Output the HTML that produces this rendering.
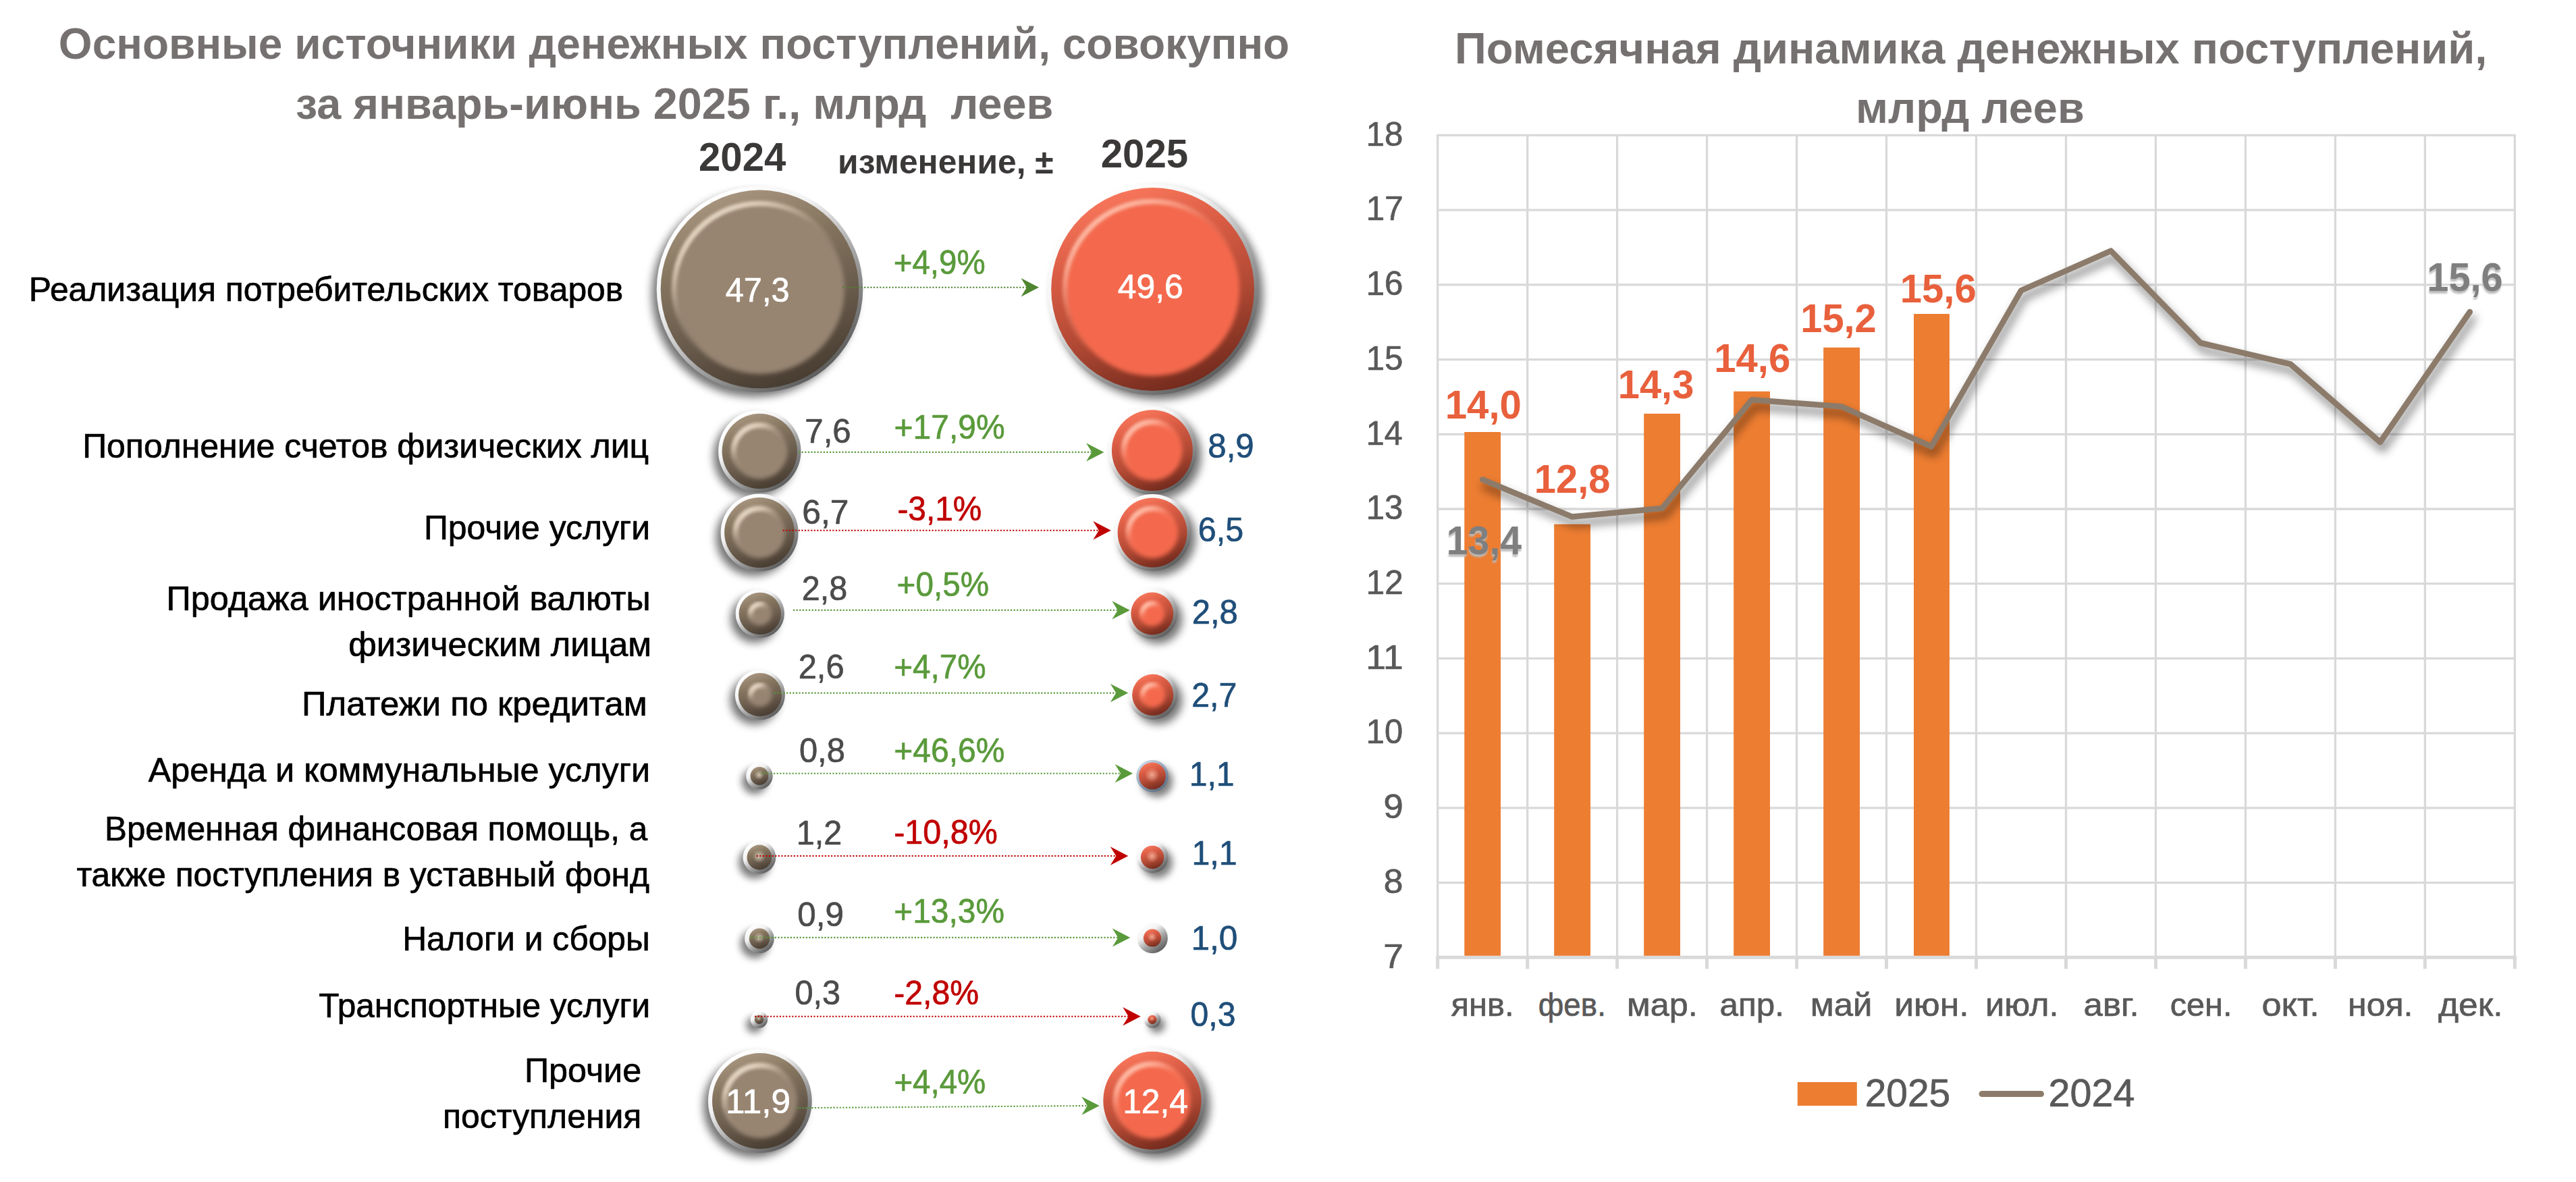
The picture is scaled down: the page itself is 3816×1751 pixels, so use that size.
<!DOCTYPE html>
<html lang="ru">
<head>
<meta charset="utf-8">
<title>Основные источники денежных поступлений</title>
<style>
html,body{margin:0;padding:0;background:#fff}
body{width:3816px;height:1751px;overflow:hidden}
svg{display:block}
svg text{font-family:"Liberation Sans", sans-serif;white-space:pre}
</style>
</head>
<body>
<svg width="3816" height="1751" viewBox="0 0 3816 1751">
<defs>
<filter id="bsh" x="-40%" y="-40%" width="180%" height="180%"><feGaussianBlur stdDeviation="6.5"/></filter>
<filter id="bshs" x="-100%" y="-100%" width="300%" height="300%"><feGaussianBlur stdDeviation="5.5"/></filter>
<filter id="soft" x="-20%" y="-20%" width="140%" height="140%"><feGaussianBlur stdDeviation="3"/></filter>
<filter id="soft2" x="-20%" y="-20%" width="140%" height="140%"><feGaussianBlur stdDeviation="2.2"/></filter>
<filter id="lsh" x="-5%" y="-10%" width="110%" height="130%"><feGaussianBlur stdDeviation="7"/></filter>
<filter id="tsh" x="-10%" y="-20%" width="120%" height="150%"><feDropShadow dx="-0.5" dy="3.8" stdDeviation="1.3" flood-color="#b9b9b9" flood-opacity=".95"/></filter>
<linearGradient id="rim" x1="0.2" y1="0.1" x2="0.8" y2="0.9"><stop offset="0" stop-color="#ffffff"/><stop offset=".3" stop-color="#f2f2f2"/><stop offset=".62" stop-color="#a6a6a6"/><stop offset="1" stop-color="#5e5e5e"/></linearGradient>
<linearGradient id="rimb" x1="0.2" y1="0.1" x2="0.8" y2="0.9"><stop offset="0" stop-color="#c9d6e4"/><stop offset=".5" stop-color="#8fa3ba"/><stop offset="1" stop-color="#5d6f84"/></linearGradient>
<linearGradient id="bevB" x1="0.35" y1="0" x2="0.7" y2="1"><stop offset="0" stop-color="#a8957f"/><stop offset=".3" stop-color="#85755f"/><stop offset=".62" stop-color="#6a5c4d"/><stop offset="1" stop-color="#453a2f"/></linearGradient>
<linearGradient id="bevR" x1="0.35" y1="0" x2="0.7" y2="1"><stop offset="0" stop-color="#f9775c"/><stop offset=".3" stop-color="#d85b43"/><stop offset=".62" stop-color="#b04934"/><stop offset="1" stop-color="#6e281b"/></linearGradient>
<linearGradient id="hgB" x1="0.12" y1="0.02" x2="0.62" y2="0.72"><stop offset="0" stop-color="#efe2d0" stop-opacity="1"/><stop offset=".25" stop-color="#e6d6c2" stop-opacity=".8"/><stop offset=".55" stop-color="#d8c8b4" stop-opacity=".18"/><stop offset=".8" stop-color="#d8c8b4" stop-opacity="0"/></linearGradient>
<linearGradient id="hgR" x1="0.12" y1="0.02" x2="0.62" y2="0.72"><stop offset="0" stop-color="#ffc9b6" stop-opacity="1"/><stop offset=".25" stop-color="#ffb7a1" stop-opacity=".8"/><stop offset=".55" stop-color="#ff9f86" stop-opacity=".18"/><stop offset=".8" stop-color="#ff9f86" stop-opacity="0"/></linearGradient>
<radialGradient id="hlB" cx=".5" cy=".5" r=".5"><stop offset="0" stop-color="#e8dac8" stop-opacity=".95"/><stop offset="1" stop-color="#e8dac8" stop-opacity="0"/></radialGradient>
<radialGradient id="hlR" cx=".5" cy=".5" r=".5"><stop offset="0" stop-color="#ffc0ab" stop-opacity=".95"/><stop offset="1" stop-color="#ffc0ab" stop-opacity="0"/></radialGradient>
</defs>
<g id="chart">
<g stroke="#d9d9d9" stroke-width="3.3" fill="none">
<line x1="2128.1" y1="1307.6" x2="3726.9" y2="1307.6"/>
<line x1="2128.1" y1="1196.9" x2="3726.9" y2="1196.9"/>
<line x1="2128.1" y1="1086.1" x2="3726.9" y2="1086.1"/>
<line x1="2128.1" y1="975.4" x2="3726.9" y2="975.4"/>
<line x1="2128.1" y1="864.7" x2="3726.9" y2="864.7"/>
<line x1="2128.1" y1="754.0" x2="3726.9" y2="754.0"/>
<line x1="2128.1" y1="643.3" x2="3726.9" y2="643.3"/>
<line x1="2128.1" y1="532.6" x2="3726.9" y2="532.6"/>
<line x1="2128.1" y1="421.8" x2="3726.9" y2="421.8"/>
<line x1="2128.1" y1="311.1" x2="3726.9" y2="311.1"/>
<line x1="2128.1" y1="200.4" x2="3726.9" y2="200.4"/>
<line x1="2129.7" y1="200.4" x2="2129.7" y2="1418.3"/>
<line x1="2262.7" y1="200.4" x2="2262.7" y2="1418.3"/>
<line x1="2395.6" y1="200.4" x2="2395.6" y2="1418.3"/>
<line x1="2528.6" y1="200.4" x2="2528.6" y2="1418.3"/>
<line x1="2661.6" y1="200.4" x2="2661.6" y2="1418.3"/>
<line x1="2794.5" y1="200.4" x2="2794.5" y2="1418.3"/>
<line x1="2927.5" y1="200.4" x2="2927.5" y2="1418.3"/>
<line x1="3060.5" y1="200.4" x2="3060.5" y2="1418.3"/>
<line x1="3193.4" y1="200.4" x2="3193.4" y2="1418.3"/>
<line x1="3326.4" y1="200.4" x2="3326.4" y2="1418.3"/>
<line x1="3459.4" y1="200.4" x2="3459.4" y2="1418.3"/>
<line x1="3592.3" y1="200.4" x2="3592.3" y2="1418.3"/>
<line x1="3725.3" y1="200.4" x2="3725.3" y2="1418.3"/>
</g>
<g stroke="#d9d9d9" stroke-width="5" fill="none">
<line x1="2127.2" y1="1418.3" x2="3727.8" y2="1418.3"/>
<line x1="2129.7" y1="1418.3" x2="2129.7" y2="1435.3"/>
<line x1="2262.7" y1="1418.3" x2="2262.7" y2="1435.3"/>
<line x1="2395.6" y1="1418.3" x2="2395.6" y2="1435.3"/>
<line x1="2528.6" y1="1418.3" x2="2528.6" y2="1435.3"/>
<line x1="2661.6" y1="1418.3" x2="2661.6" y2="1435.3"/>
<line x1="2794.5" y1="1418.3" x2="2794.5" y2="1435.3"/>
<line x1="2927.5" y1="1418.3" x2="2927.5" y2="1435.3"/>
<line x1="3060.5" y1="1418.3" x2="3060.5" y2="1435.3"/>
<line x1="3193.4" y1="1418.3" x2="3193.4" y2="1435.3"/>
<line x1="3326.4" y1="1418.3" x2="3326.4" y2="1435.3"/>
<line x1="3459.4" y1="1418.3" x2="3459.4" y2="1435.3"/>
<line x1="3592.3" y1="1418.3" x2="3592.3" y2="1435.3"/>
<line x1="3725.3" y1="1418.3" x2="3725.3" y2="1435.3"/>
</g>
<g fill="#ed7d31">
<rect x="2169.3" y="640.0" width="53.8" height="775.8"/>
<rect x="2302.2" y="776.6" width="53.8" height="639.2"/>
<rect x="2435.2" y="612.8" width="53.8" height="803.0"/>
<rect x="2568.2" y="579.8" width="53.8" height="836.0"/>
<rect x="2701.2" y="514.8" width="53.8" height="901.0"/>
<rect x="2835.0" y="465.0" width="52.9" height="950.8"/>
</g>
<polyline points="2200.2,720.5 2333.1,775.6 2466.1,763.1 2599.1,602.3 2732.1,612.3 2865.0,671.5 2998.0,440.4 3131.0,381.6 3263.9,518.0 3396.9,549.3 3529.9,665.0 3662.8,472.0" fill="none" stroke="#000" stroke-opacity=".46" stroke-width="10" stroke-linejoin="round" stroke-linecap="round" filter="url(#lsh)"/>
<polyline points="2196.2,710.5 2329.1,765.6 2462.1,753.1 2595.1,592.3 2728.1,602.3 2861.0,661.5 2994.0,430.4 3127.0,371.6 3259.9,508.0 3392.9,539.3 3525.9,655.0 3658.8,462.0" fill="none" stroke="#8c7b6a" stroke-width="8.5" stroke-linejoin="round" stroke-linecap="round"/>
<rect x="2662.8" y="1603" width="88" height="35" fill="#ed7d31"/>
<line x1="2936" y1="1620.6" x2="3023.5" y2="1620.6" stroke="#8c7b6a" stroke-width="9" stroke-linecap="round"/>
</g>
<g id="bubbles">
<circle cx="1117.5" cy="436.4" r="151.8" fill="#000" opacity=".55" filter="url(#bsh)"/>
<circle cx="1125.5" cy="428.4" r="152.8" fill="url(#rim)"/>
<circle cx="1125.5" cy="428.4" r="146.8" fill="url(#bevB)"/>
<circle cx="1125.5" cy="428.4" r="125.5" fill="#978572" filter="url(#soft)"/>
<circle cx="1125.5" cy="428.4" r="127.0" fill="none" stroke="url(#hgB)" stroke-width="8.0" filter="url(#soft2)"/>
<circle cx="1715.6" cy="436.5" r="155.4" fill="#000" opacity=".55" filter="url(#bsh)"/>
<circle cx="1707.6" cy="428.5" r="156.4" fill="url(#rim)"/>
<circle cx="1707.6" cy="428.5" r="150.4" fill="url(#bevR)"/>
<circle cx="1707.6" cy="428.5" r="128.5" fill="#f4694e" filter="url(#soft)"/>
<circle cx="1707.6" cy="428.5" r="130.0" fill="none" stroke="url(#hgR)" stroke-width="8.0" filter="url(#soft2)"/>
<circle cx="1117.3" cy="676.4" r="60.2" fill="#000" opacity=".55" filter="url(#bsh)"/>
<circle cx="1125.3" cy="668.4" r="61.2" fill="url(#rim)"/>
<circle cx="1125.3" cy="668.4" r="55.7" fill="url(#bevB)"/>
<circle cx="1125.3" cy="668.4" r="41.0" fill="#978572" filter="url(#soft)"/>
<circle cx="1125.3" cy="668.4" r="38.5" fill="none" stroke="url(#hgB)" stroke-width="8.5" filter="url(#soft2)"/>
<circle cx="1714.9" cy="675.3" r="64.5" fill="#000" opacity=".55" filter="url(#bsh)"/>
<circle cx="1706.9" cy="667.3" r="65.5" fill="url(#rim)"/>
<circle cx="1706.9" cy="667.3" r="60.0" fill="url(#bevR)"/>
<circle cx="1706.9" cy="667.3" r="44.5" fill="#f4694e" filter="url(#soft)"/>
<circle cx="1706.9" cy="667.3" r="42.0" fill="none" stroke="url(#hgR)" stroke-width="8.5" filter="url(#soft2)"/>
<circle cx="1117.1" cy="796.9" r="56.5" fill="#000" opacity=".55" filter="url(#bsh)"/>
<circle cx="1125.1" cy="788.9" r="57.5" fill="url(#rim)"/>
<circle cx="1125.1" cy="788.9" r="52.0" fill="url(#bevB)"/>
<circle cx="1125.1" cy="788.9" r="38.0" fill="#978572" filter="url(#soft)"/>
<circle cx="1125.1" cy="788.9" r="35.5" fill="none" stroke="url(#hgB)" stroke-width="8.5" filter="url(#soft2)"/>
<circle cx="1715.1" cy="796.9" r="56.0" fill="#000" opacity=".55" filter="url(#bsh)"/>
<circle cx="1707.1" cy="788.9" r="57.0" fill="url(#rim)"/>
<circle cx="1707.1" cy="788.9" r="51.5" fill="url(#bevR)"/>
<circle cx="1707.1" cy="788.9" r="38.0" fill="#f4694e" filter="url(#soft)"/>
<circle cx="1707.1" cy="788.9" r="35.5" fill="none" stroke="url(#hgR)" stroke-width="8.5" filter="url(#soft2)"/>
<circle cx="1117.8" cy="916.9" r="35.2" fill="#000" opacity=".55" filter="url(#bsh)"/>
<circle cx="1125.8" cy="908.9" r="36.2" fill="url(#rim)"/>
<circle cx="1125.8" cy="908.9" r="31.2" fill="url(#bevB)"/>
<circle cx="1125.3" cy="908.4" r="18.0" fill="#978572" filter="url(#soft)"/>
<circle cx="1125.8" cy="908.9" r="13.5" fill="none" stroke="url(#hgB)" stroke-width="8" filter="url(#soft2)"/>
<circle cx="1714.8" cy="917.0" r="36.5" fill="#000" opacity=".55" filter="url(#bsh)"/>
<circle cx="1706.8" cy="909.0" r="37.5" fill="url(#rim)"/>
<circle cx="1706.8" cy="909.0" r="31.5" fill="url(#bevR)"/>
<circle cx="1706.3" cy="908.5" r="19.0" fill="#f4694e" filter="url(#soft)"/>
<circle cx="1706.8" cy="909.0" r="14.5" fill="none" stroke="url(#hgR)" stroke-width="8" filter="url(#soft2)"/>
<circle cx="1117.9" cy="1037.2" r="36.1" fill="#000" opacity=".55" filter="url(#bsh)"/>
<circle cx="1125.9" cy="1029.2" r="37.1" fill="url(#rim)"/>
<circle cx="1125.9" cy="1029.2" r="32.1" fill="url(#bevB)"/>
<circle cx="1125.4" cy="1028.7" r="18.0" fill="#978572" filter="url(#soft)"/>
<circle cx="1125.9" cy="1029.2" r="13.5" fill="none" stroke="url(#hgB)" stroke-width="8" filter="url(#soft2)"/>
<circle cx="1715.7" cy="1037.4" r="35.6" fill="#000" opacity=".55" filter="url(#bsh)"/>
<circle cx="1707.7" cy="1029.4" r="36.6" fill="url(#rim)"/>
<circle cx="1707.7" cy="1029.4" r="30.6" fill="url(#bevR)"/>
<circle cx="1707.2" cy="1028.9" r="19.0" fill="#f4694e" filter="url(#soft)"/>
<circle cx="1707.7" cy="1029.4" r="14.5" fill="none" stroke="url(#hgR)" stroke-width="8" filter="url(#soft2)"/>
<circle cx="1118.0" cy="1157.5" r="19.2" fill="#000" opacity=".5" filter="url(#bshs)"/>
<circle cx="1125.0" cy="1149.5" r="19.7" fill="url(#rim)"/>
<circle cx="1125.0" cy="1149.5" r="13.4" fill="url(#bevB)"/>
<circle cx="1124.5" cy="1148.0" r="7.4" fill="url(#hlB)" opacity=".8"/>
<circle cx="1714.0" cy="1157.5" r="23.3" fill="#000" opacity=".5" filter="url(#bshs)"/>
<circle cx="1707.0" cy="1149.5" r="23.8" fill="url(#rimb)"/>
<circle cx="1707.0" cy="1149.5" r="20.0" fill="url(#bevR)"/>
<circle cx="1706.5" cy="1148.0" r="11.0" fill="url(#hlR)" opacity=".8"/>
<circle cx="1117.9" cy="1278.0" r="23.9" fill="#000" opacity=".5" filter="url(#bshs)"/>
<circle cx="1124.9" cy="1270.0" r="24.4" fill="url(#rim)"/>
<circle cx="1124.9" cy="1270.0" r="18.4" fill="url(#bevB)"/>
<circle cx="1124.4" cy="1268.5" r="10.1" fill="url(#hlB)" opacity=".8"/>
<circle cx="1714.1" cy="1277.9" r="23.0" fill="#000" opacity=".5" filter="url(#bshs)"/>
<circle cx="1707.1" cy="1269.9" r="23.5" fill="url(#rim)"/>
<circle cx="1707.1" cy="1269.9" r="17.2" fill="url(#bevR)"/>
<circle cx="1706.6" cy="1268.4" r="9.5" fill="url(#hlR)" opacity=".8"/>
<circle cx="1118.0" cy="1398.4" r="21.3" fill="#000" opacity=".5" filter="url(#bshs)"/>
<circle cx="1125.0" cy="1390.4" r="21.8" fill="url(#rim)"/>
<circle cx="1125.0" cy="1390.4" r="15.1" fill="url(#bevB)"/>
<circle cx="1124.5" cy="1388.9" r="8.3" fill="url(#hlB)" opacity=".8"/>
<circle cx="1707.0" cy="1389.4" r="22.9" fill="url(#rim)"/>
<circle cx="1707.0" cy="1389.4" r="13.1" fill="url(#bevR)"/>
<circle cx="1706.5" cy="1387.9" r="7.2" fill="url(#hlR)" opacity=".8"/>
<circle cx="1117.5" cy="1518.2" r="12.2" fill="#000" opacity=".5" filter="url(#bshs)"/>
<circle cx="1124.5" cy="1510.2" r="12.7" fill="url(#rim)"/>
<circle cx="1124.5" cy="1510.2" r="6.7" fill="url(#bevB)"/>
<circle cx="1124.0" cy="1508.7" r="3.7" fill="url(#hlB)" opacity=".8"/>
<circle cx="1713.9" cy="1518.3" r="12.0" fill="#000" opacity=".5" filter="url(#bshs)"/>
<circle cx="1706.9" cy="1510.3" r="12.5" fill="url(#rim)"/>
<circle cx="1706.9" cy="1510.3" r="6.6" fill="url(#bevR)"/>
<circle cx="1706.4" cy="1508.8" r="3.6" fill="url(#hlR)" opacity=".8"/>
<circle cx="1117.9" cy="1639.0" r="75.9" fill="#000" opacity=".55" filter="url(#bsh)"/>
<circle cx="1125.9" cy="1631.0" r="76.9" fill="url(#rim)"/>
<circle cx="1125.9" cy="1631.0" r="70.9" fill="url(#bevB)"/>
<circle cx="1125.9" cy="1631.0" r="55.0" fill="#978572" filter="url(#soft)"/>
<circle cx="1125.9" cy="1631.0" r="52.5" fill="none" stroke="url(#hgB)" stroke-width="8.5" filter="url(#soft2)"/>
<circle cx="1714.9" cy="1638.4" r="77.6" fill="#000" opacity=".55" filter="url(#bsh)"/>
<circle cx="1706.9" cy="1630.4" r="78.6" fill="url(#rim)"/>
<circle cx="1706.9" cy="1630.4" r="72.6" fill="url(#bevR)"/>
<circle cx="1706.9" cy="1630.4" r="56.5" fill="#f4694e" filter="url(#soft)"/>
<circle cx="1706.9" cy="1630.4" r="54.0" fill="none" stroke="url(#hgR)" stroke-width="8.5" filter="url(#soft2)"/>
<g transform="translate(1539.0 425.8) rotate(0.00)"><line x1="-291.1" y1="0" x2="-18.0" y2="0" stroke="#4f8530" stroke-width="2.1" stroke-dasharray="2.2 2.4"/><path d="M0 0L-26.5 -13.7L-18.0 0L-26.5 13.7Z" fill="#4f8530"/></g>
<g transform="translate(1635.5 669.9) rotate(0.00)"><line x1="-452.5" y1="0" x2="-18.0" y2="0" stroke="#5a9a3b" stroke-width="2.1" stroke-dasharray="2.2 2.4"/><path d="M0 0L-26.5 -13.7L-18.0 0L-26.5 13.7Z" fill="#5a9a3b"/></g>
<g transform="translate(1645.8 785.7) rotate(0.00)"><line x1="-486.1" y1="0" x2="-18.0" y2="0" stroke="#c00000" stroke-width="2.1" stroke-dasharray="2.2 2.4"/><path d="M0 0L-26.5 -13.7L-18.0 0L-26.5 13.7Z" fill="#c00000"/></g>
<g transform="translate(1673.8 903.9) rotate(0.00)"><line x1="-498.8" y1="0" x2="-18.0" y2="0" stroke="#5a9a3b" stroke-width="2.1" stroke-dasharray="2.2 2.4"/><path d="M0 0L-26.5 -13.7L-18.0 0L-26.5 13.7Z" fill="#5a9a3b"/></g>
<g transform="translate(1671.3 1026.6) rotate(0.00)"><line x1="-524.6" y1="0" x2="-18.0" y2="0" stroke="#5a9a3b" stroke-width="2.1" stroke-dasharray="2.2 2.4"/><path d="M0 0L-26.5 -13.7L-18.0 0L-26.5 13.7Z" fill="#5a9a3b"/></g>
<g transform="translate(1678.1 1145.8) rotate(0.00)"><line x1="-550.5" y1="0" x2="-18.0" y2="0" stroke="#5a9a3b" stroke-width="2.1" stroke-dasharray="2.2 2.4"/><path d="M0 0L-26.5 -13.7L-18.0 0L-26.5 13.7Z" fill="#5a9a3b"/></g>
<g transform="translate(1671.3 1268.0) rotate(0.00)"><line x1="-550.7" y1="0" x2="-18.0" y2="0" stroke="#c00000" stroke-width="2.1" stroke-dasharray="2.2 2.4"/><path d="M0 0L-26.5 -13.7L-18.0 0L-26.5 13.7Z" fill="#c00000"/></g>
<g transform="translate(1674.3 1388.9) rotate(0.00)"><line x1="-563.3" y1="0" x2="-18.0" y2="0" stroke="#5a9a3b" stroke-width="2.1" stroke-dasharray="2.2 2.4"/><path d="M0 0L-26.5 -13.7L-18.0 0L-26.5 13.7Z" fill="#5a9a3b"/></g>
<g transform="translate(1689.7 1505.7) rotate(0.00)"><line x1="-571.7" y1="0" x2="-18.0" y2="0" stroke="#c00000" stroke-width="2.1" stroke-dasharray="2.2 2.4"/><path d="M0 0L-26.5 -13.7L-18.0 0L-26.5 13.7Z" fill="#c00000"/></g>
<g transform="translate(1628.7 1637.9) rotate(-0.43)"><line x1="-449.4" y1="0" x2="-18.0" y2="0" stroke="#5a9a3b" stroke-width="2.1" stroke-dasharray="2.2 2.4"/><path d="M0 0L-26.5 -13.7L-18.0 0L-26.5 13.7Z" fill="#5a9a3b"/></g>
</g>
<g id="labels">
<text transform="matrix(0.9778 0 0 1 86.84 86.60)" font-size="65.5" fill="#767171" font-weight="bold">Основные источники денежных поступлений, совокупно</text>
<text transform="matrix(0.9885 0 0 1 437.88 175.70)" font-size="65.5" fill="#767171" font-weight="bold">за январь-июнь 2025 г., млрд  леев</text>
<text transform="matrix(0.9844 0 0 1 1035.06 253.00)" font-size="59" fill="#3b3838" font-weight="bold">2024</text>
<text transform="matrix(1.0012 0 0 1 1241.07 257.10)" font-size="49.7" fill="#3b3838" font-weight="bold">изменение, ±</text>
<text transform="matrix(0.9864 0 0 1 1630.75 248.00)" font-size="59" fill="#3b3838" font-weight="bold">2025</text>
<text transform="matrix(0.9962 0 0 1 42.87 445.80)" font-size="50" fill="#000" stroke="#000" stroke-width="0.7" stroke-linejoin="round">Реализация потребительских товаров</text>
<text transform="matrix(0.9995 0 0 1 122.15 678.10)" font-size="50" fill="#000" stroke="#000" stroke-width="0.7" stroke-linejoin="round">Пополнение счетов физических лиц</text>
<text transform="matrix(0.9982 0 0 1 627.96 799.40)" font-size="50" fill="#000" stroke="#000" stroke-width="0.7" stroke-linejoin="round">Прочие услуги</text>
<text transform="matrix(1.0067 0 0 1 246.62 904.30)" font-size="50" fill="#000" stroke="#000" stroke-width="0.7" stroke-linejoin="round">Продажа иностранной валюты</text>
<text transform="matrix(1.0089 0 0 1 516.33 972.10)" font-size="50" fill="#000" stroke="#000" stroke-width="0.7" stroke-linejoin="round">физическим лицам</text>
<text transform="matrix(1.0167 0 0 1 446.98 1059.90)" font-size="50" fill="#000" stroke="#000" stroke-width="0.7" stroke-linejoin="round">Платежи по кредитам</text>
<text transform="matrix(1.0056 0 0 1 219.65 1157.80)" font-size="50" fill="#000" stroke="#000" stroke-width="0.7" stroke-linejoin="round">Аренда и коммунальные услуги</text>
<text transform="matrix(0.9865 0 0 1 155.00 1244.70)" font-size="50" fill="#000" stroke="#000" stroke-width="0.7" stroke-linejoin="round">Временная финансовая помощь, а</text>
<text transform="matrix(0.9941 0 0 1 113.40 1312.50)" font-size="50" fill="#000" stroke="#000" stroke-width="0.7" stroke-linejoin="round">также поступления в уставный фонд</text>
<text transform="matrix(0.9948 0 0 1 596.17 1407.80)" font-size="50" fill="#000" stroke="#000" stroke-width="0.7" stroke-linejoin="round">Налоги и сборы</text>
<text transform="matrix(0.9913 0 0 1 472.26 1507.00)" font-size="50" fill="#000" stroke="#000" stroke-width="0.7" stroke-linejoin="round">Транспортные услуги</text>
<text transform="matrix(1.0061 0 0 1 776.93 1602.60)" font-size="50" fill="#000" stroke="#000" stroke-width="0.7" stroke-linejoin="round">Прочие</text>
<text transform="matrix(0.9974 0 0 1 656.11 1670.60)" font-size="50" fill="#000" stroke="#000" stroke-width="0.7" stroke-linejoin="round">поступления</text>
<text transform="matrix(0.9750 0 0 1 1074.68 446.80)" font-size="50" fill="#fff" stroke="#fff" stroke-width="0.7" stroke-linejoin="round">47,3</text>
<text transform="matrix(0.9983 0 0 1 1655.75 441.70)" font-size="50" fill="#fff" stroke="#fff" stroke-width="0.7" stroke-linejoin="round">49,6</text>
<text transform="matrix(0.9497 0 0 1 1323.71 405.80)" font-size="50" fill="#5a9a3b" stroke="#5a9a3b" stroke-width="0.7" stroke-linejoin="round">+4,9%</text>
<text transform="matrix(0.9838 0 0 1 1192.29 655.60)" font-size="50" fill="#4b4b4b" stroke="#4b4b4b" stroke-width="0.7" stroke-linejoin="round">7,6</text>
<text transform="matrix(0.9847 0 0 1 1789.28 677.80)" font-size="50" fill="#1f4e79" stroke="#1f4e79" stroke-width="0.7" stroke-linejoin="round">8,9</text>
<text transform="matrix(0.9598 0 0 1 1324.59 650.10)" font-size="50" fill="#5a9a3b" stroke="#5a9a3b" stroke-width="0.7" stroke-linejoin="round">+17,9%</text>
<text transform="matrix(0.9938 0 0 1 1188.27 775.80)" font-size="50" fill="#4b4b4b" stroke="#4b4b4b" stroke-width="0.7" stroke-linejoin="round">6,7</text>
<text transform="matrix(0.9669 0 0 1 1774.83 802.00)" font-size="50" fill="#1f4e79" stroke="#1f4e79" stroke-width="0.7" stroke-linejoin="round">6,5</text>
<text transform="matrix(0.9566 0 0 1 1329.44 771.00)" font-size="50" fill="#c00000" stroke="#c00000" stroke-width="0.7" stroke-linejoin="round">-3,1%</text>
<text transform="matrix(0.9700 0 0 1 1187.83 888.90)" font-size="50" fill="#4b4b4b" stroke="#4b4b4b" stroke-width="0.7" stroke-linejoin="round">2,8</text>
<text transform="matrix(0.9808 0 0 1 1765.70 923.60)" font-size="50" fill="#1f4e79" stroke="#1f4e79" stroke-width="0.7" stroke-linejoin="round">2,8</text>
<text transform="matrix(0.9533 0 0 1 1328.61 882.90)" font-size="50" fill="#5a9a3b" stroke="#5a9a3b" stroke-width="0.7" stroke-linejoin="round">+0,5%</text>
<text transform="matrix(0.9761 0 0 1 1182.71 1005.30)" font-size="50" fill="#4b4b4b" stroke="#4b4b4b" stroke-width="0.7" stroke-linejoin="round">2,6</text>
<text transform="matrix(0.9660 0 0 1 1765.23 1046.60)" font-size="50" fill="#1f4e79" stroke="#1f4e79" stroke-width="0.7" stroke-linejoin="round">2,7</text>
<text transform="matrix(0.9525 0 0 1 1324.31 1005.30)" font-size="50" fill="#5a9a3b" stroke="#5a9a3b" stroke-width="0.7" stroke-linejoin="round">+4,7%</text>
<text transform="matrix(0.9772 0 0 1 1183.94 1129.20)" font-size="50" fill="#4b4b4b" stroke="#4b4b4b" stroke-width="0.7" stroke-linejoin="round">0,8</text>
<text transform="matrix(0.9646 0 0 1 1761.63 1164.10)" font-size="50" fill="#1f4e79" stroke="#1f4e79" stroke-width="0.7" stroke-linejoin="round">1,1</text>
<text transform="matrix(0.9604 0 0 1 1324.29 1128.60)" font-size="50" fill="#5a9a3b" stroke="#5a9a3b" stroke-width="0.7" stroke-linejoin="round">+46,6%</text>
<text transform="matrix(0.9709 0 0 1 1179.81 1250.70)" font-size="50" fill="#4b4b4b" stroke="#4b4b4b" stroke-width="0.7" stroke-linejoin="round">1,2</text>
<text transform="matrix(0.9661 0 0 1 1765.43 1281.10)" font-size="50" fill="#1f4e79" stroke="#1f4e79" stroke-width="0.7" stroke-linejoin="round">1,1</text>
<text transform="matrix(0.9695 0 0 1 1324.21 1250.10)" font-size="50" fill="#c00000" stroke="#c00000" stroke-width="0.7" stroke-linejoin="round">-10,8%</text>
<text transform="matrix(0.9870 0 0 1 1181.32 1372.20)" font-size="50" fill="#4b4b4b" stroke="#4b4b4b" stroke-width="0.7" stroke-linejoin="round">0,9</text>
<text transform="matrix(0.9914 0 0 1 1764.43 1407.00)" font-size="50" fill="#1f4e79" stroke="#1f4e79" stroke-width="0.7" stroke-linejoin="round">1,0</text>
<text transform="matrix(0.9574 0 0 1 1324.30 1366.60)" font-size="50" fill="#5a9a3b" stroke="#5a9a3b" stroke-width="0.7" stroke-linejoin="round">+13,3%</text>
<text transform="matrix(0.9726 0 0 1 1177.45 1488.40)" font-size="50" fill="#4b4b4b" stroke="#4b4b4b" stroke-width="0.7" stroke-linejoin="round">0,3</text>
<text transform="matrix(0.9620 0 0 1 1763.57 1520.10)" font-size="50" fill="#1f4e79" stroke="#1f4e79" stroke-width="0.7" stroke-linejoin="round">0,3</text>
<text transform="matrix(0.9637 0 0 1 1324.22 1487.90)" font-size="50" fill="#c00000" stroke="#c00000" stroke-width="0.7" stroke-linejoin="round">-2,8%</text>
<text transform="matrix(1.0269 0 0 1 1074.90 1648.50)" font-size="50" fill="#fff" stroke="#fff" stroke-width="0.7" stroke-linejoin="round">11,9</text>
<text transform="matrix(0.9929 0 0 1 1663.23 1648.50)" font-size="50" fill="#fff" stroke="#fff" stroke-width="0.7" stroke-linejoin="round">12,4</text>
<text transform="matrix(0.9490 0 0 1 1324.41 1620.30)" font-size="50" fill="#5a9a3b" stroke="#5a9a3b" stroke-width="0.7" stroke-linejoin="round">+4,4%</text>
<text transform="matrix(0.9936 0 0 1 2155.07 93.90)" font-size="65.5" fill="#767171" font-weight="bold">Помесячная динамика денежных поступлений,</text>
<text transform="matrix(0.9906 0 0 1 2748.98 182.30)" font-size="65.5" fill="#767171" font-weight="bold">млрд леев</text>
<text transform="matrix(1.0760 0 0 1 2049.19 1433.60)" font-size="49.5" fill="#595959" stroke="#595959" stroke-width="0.7" stroke-linejoin="round">7</text>
<text transform="matrix(1.0420 0 0 1 2049.79 1322.88)" font-size="49.5" fill="#595959" stroke="#595959" stroke-width="0.7" stroke-linejoin="round">8</text>
<text transform="matrix(1.0644 0 0 1 2049.48 1212.16)" font-size="49.5" fill="#595959" stroke="#595959" stroke-width="0.7" stroke-linejoin="round">9</text>
<text transform="matrix(0.9888 0 0 1 2023.68 1101.45)" font-size="49.5" fill="#595959" stroke="#595959" stroke-width="0.7" stroke-linejoin="round">10</text>
<text transform="matrix(1.0796 0 0 1 2023.34 990.73)" font-size="49.5" fill="#595959" stroke="#595959" stroke-width="0.7" stroke-linejoin="round">11</text>
<text transform="matrix(0.9987 0 0 1 2023.64 880.01)" font-size="49.5" fill="#595959" stroke="#595959" stroke-width="0.7" stroke-linejoin="round">12</text>
<text transform="matrix(0.9937 0 0 1 2023.66 769.29)" font-size="49.5" fill="#595959" stroke="#595959" stroke-width="0.7" stroke-linejoin="round">13</text>
<text transform="matrix(0.9790 0 0 1 2023.72 658.57)" font-size="49.5" fill="#595959" stroke="#595959" stroke-width="0.7" stroke-linejoin="round">14</text>
<text transform="matrix(0.9937 0 0 1 2023.66 547.85)" font-size="49.5" fill="#595959" stroke="#595959" stroke-width="0.7" stroke-linejoin="round">15</text>
<text transform="matrix(0.9937 0 0 1 2023.66 437.14)" font-size="49.5" fill="#595959" stroke="#595959" stroke-width="0.7" stroke-linejoin="round">16</text>
<text transform="matrix(0.9987 0 0 1 2023.64 326.42)" font-size="49.5" fill="#595959" stroke="#595959" stroke-width="0.7" stroke-linejoin="round">17</text>
<text transform="matrix(0.9937 0 0 1 2023.66 215.70)" font-size="49.5" fill="#595959" stroke="#595959" stroke-width="0.7" stroke-linejoin="round">18</text>
<text transform="matrix(1.0116 0 0 1 2149.40 1504.70)" font-size="48.5" fill="#595959" stroke="#595959" stroke-width="0.7" stroke-linejoin="round">янв.</text>
<text transform="matrix(0.9438 0 0 1 2278.72 1504.70)" font-size="48.5" fill="#595959" stroke="#595959" stroke-width="0.7" stroke-linejoin="round">фев.</text>
<text transform="matrix(1.0401 0 0 1 2409.97 1504.70)" font-size="48.5" fill="#595959" stroke="#595959" stroke-width="0.7" stroke-linejoin="round">мар.</text>
<text transform="matrix(1.0173 0 0 1 2547.58 1504.70)" font-size="48.5" fill="#595959" stroke="#595959" stroke-width="0.7" stroke-linejoin="round">апр.</text>
<text transform="matrix(1.0491 0 0 1 2681.84 1504.70)" font-size="48.5" fill="#595959" stroke="#595959" stroke-width="0.7" stroke-linejoin="round">май</text>
<text transform="matrix(1.0632 0 0 1 2806.20 1504.70)" font-size="48.5" fill="#595959" stroke="#595959" stroke-width="0.7" stroke-linejoin="round">июн.</text>
<text transform="matrix(1.0417 0 0 1 2940.97 1504.70)" font-size="48.5" fill="#595959" stroke="#595959" stroke-width="0.7" stroke-linejoin="round">июл.</text>
<text transform="matrix(1.0518 0 0 1 3086.61 1504.70)" font-size="48.5" fill="#595959" stroke="#595959" stroke-width="0.7" stroke-linejoin="round">авг.</text>
<text transform="matrix(1.0026 0 0 1 3214.71 1504.70)" font-size="48.5" fill="#595959" stroke="#595959" stroke-width="0.7" stroke-linejoin="round">сен.</text>
<text transform="matrix(1.0776 0 0 1 3350.56 1504.70)" font-size="48.5" fill="#595959" stroke="#595959" stroke-width="0.7" stroke-linejoin="round">окт.</text>
<text transform="matrix(1.0327 0 0 1 3477.99 1504.70)" font-size="48.5" fill="#595959" stroke="#595959" stroke-width="0.7" stroke-linejoin="round">ноя.</text>
<text transform="matrix(1.0636 0 0 1 3611.99 1504.70)" font-size="48.5" fill="#595959" stroke="#595959" stroke-width="0.7" stroke-linejoin="round">дек.</text>
<text transform="matrix(0.9857 0 0 1 2140.71 620.10)" font-size="59" fill="#e8603c" font-weight="bold">14,0</text>
<text transform="matrix(0.9822 0 0 1 2272.82 730.00)" font-size="59" fill="#e8603c" font-weight="bold">12,8</text>
<text transform="matrix(0.9811 0 0 1 2396.73 589.60)" font-size="59" fill="#e8603c" font-weight="bold">14,3</text>
<text transform="matrix(0.9848 0 0 1 2539.21 551.10)" font-size="59" fill="#e8603c" font-weight="bold">14,6</text>
<text transform="matrix(0.9802 0 0 1 2667.23 492.30)" font-size="59" fill="#e8603c" font-weight="bold">15,2</text>
<text transform="matrix(0.9830 0 0 1 2814.82 447.50)" font-size="59" fill="#e8603c" font-weight="bold">15,6</text>
<text transform="matrix(0.9793 0 0 1 2142.76 821.00)" font-size="58.5" fill="#7f7f7f" font-weight="bold" filter="url(#tsh)">13,4</text>
<text transform="matrix(0.9886 0 0 1 3595.23 431.30)" font-size="58.5" fill="#7f7f7f" font-weight="bold" filter="url(#tsh)">15,6</text>
<text transform="matrix(0.9983 0 0 1 2762.70 1638.80)" font-size="57" fill="#595959" stroke="#595959" stroke-width="0.7" stroke-linejoin="round">2025</text>
<text transform="matrix(1.0085 0 0 1 3034.58 1638.80)" font-size="57" fill="#595959" stroke="#595959" stroke-width="0.7" stroke-linejoin="round">2024</text>
</g>
</svg>
</body>
</html>
